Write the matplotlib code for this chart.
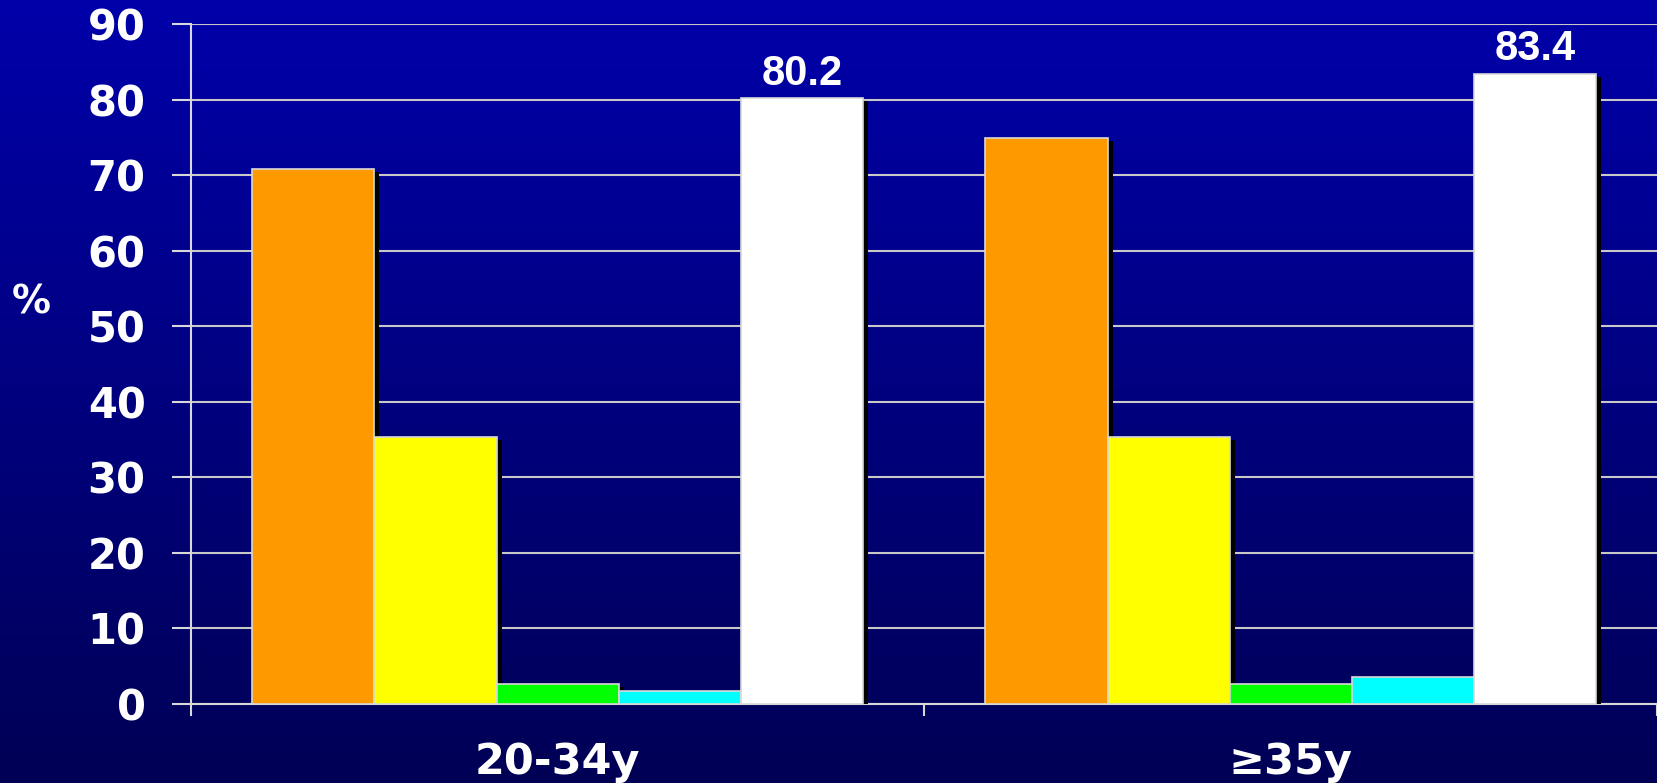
import numpy as np
import matplotlib
matplotlib.use("Agg")
import matplotlib.pyplot as plt
import matplotlib.patheffects as pe

groups = ["20-34y", "≥35y"]
orange_vals = [70.8, 74.9]
yellow_vals = [35.3, 35.3]
green_vals = [2.7, 2.7]
cyan_vals = [1.7, 3.6]
white_vals = [80.2, 83.4]
series_colors = ["#FF9900", "#FFFF00", "#00FF00", "#00FFFF", "#FFFFFF"]
y_ticks = np.arange(0, 100, 10)

series = [orange_vals, yellow_vals, green_vals, cyan_vals, white_vals]

fig = plt.figure(figsize=(16.57, 7.83), dpi=100)

# blue gradient background
bg = fig.add_axes([0, 0, 1, 1], zorder=-10)
grad = np.linspace(0, 1, 256).reshape(-1, 1)
top = np.array([0, 0, 170]) / 255
bottom = np.array([0, 0, 85]) / 255
img = top[None, None, :] * (1 - grad[:, :, None]) + bottom[None, None, :] * grad[:, :, None]
bg.imshow(img, aspect="auto", extent=[0, 1, 0, 1])
bg.axis("off")

ax = fig.add_axes([0.1153, 0.1009, 0.885, 0.8684])
ax.patch.set_alpha(0)

x = np.arange(len(groups))
w = 0.8333 / 5
shadow = [pe.SimplePatchShadow(offset=(3.6, -2.2), shadow_rgbFace="black", alpha=1.0), pe.Normal()]
for i, (vals, col) in enumerate(zip(series, series_colors)):
    pos = x - 0.8333 / 2 + w * (i + 0.5)
    bars = ax.bar(pos, vals, width=w, color=col, edgecolor="#D8D8D8", linewidth=1.2, zorder=3)
    for b in bars:
        b.set_path_effects(shadow)

for xi, v in zip(x, white_vals):
    ax.text(xi - 0.8333 / 2 + w * 4.5, v + 0.6, f"{v}", ha="center", va="bottom",
            fontsize=30, fontweight="bold", color="white", family="Liberation Sans")

ax.set_xlim(-0.5, len(groups) - 0.5)
ax.set_ylim(0, 90)
ax.set_yticks(y_ticks)
ax.set_yticklabels([str(t) for t in y_ticks], fontsize=30, fontweight="bold", color="white")
ax.tick_params(axis="y", length=13.7, width=1.5, color="#D8D8D8", pad=19)

ax.set_xticks(x)
ax.set_xticklabels(groups, fontsize=31, fontweight="bold", color="white")
ax.tick_params(axis="x", which="major", length=0, pad=27)
ax.set_xticks(np.arange(-0.5, len(groups)), minor=True)
ax.tick_params(axis="x", which="minor", length=8.6, width=1.5, color="#D8D8D8")

ax.yaxis.grid(True, color="#C8C8C8", linewidth=1.5, zorder=0)
ax.set_axisbelow(True)
for s in ["top", "right"]:
    ax.spines[s].set_visible(False)
for s in ["left", "bottom"]:
    ax.spines[s].set_color("#D8D8D8")
    ax.spines[s].set_linewidth(1.5)

fig.text(31 / 1657, 1 - 303 / 783, "%", ha="center", va="center", fontsize=28,
         fontweight="bold", color="white")

fig.savefig("out.png", dpi=100)
